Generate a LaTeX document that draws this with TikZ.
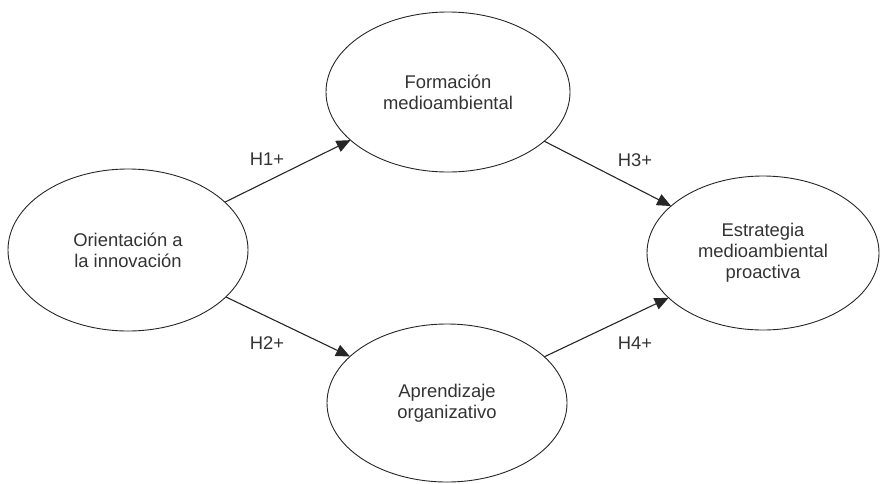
\documentclass[tikz,border=0pt]{standalone}
\usepackage{fontspec}
\setmainfont{Liberation Sans}
\usetikzlibrary{shapes.geometric,arrows.meta}
\begin{document}
\begin{tikzpicture}[x=1pt,y=-1pt,
  construct/.style={ellipse,draw=black!85,line width=0.9pt,inner sep=0pt,outer sep=0pt,align=center,font=\fontsize{18.4}{21}\selectfont,text=black!80},
  hyp/.style={draw=black!85,line width=1.1pt,-{Triangle[length=14pt,width=12pt]}},
  lab/.style={font=\fontsize{18.4}{21}\selectfont,text=black!80,inner sep=0pt}]
\useasboundingbox (0,0) rectangle (880,483);
\node[construct,minimum width=240pt,minimum height=162pt] (oi) at (128,250) {Orientación a\\la innovación};
\node[construct,minimum width=244pt,minimum height=160pt] (fm) at (448,92) {Formación\\medioambiental};
\node[construct,minimum width=240pt,minimum height=158pt] (ao) at (447,403) {Aprendizaje\\organizativo};
\node[construct,minimum width=232pt,minimum height=154pt] (em) at (763,253) {Estrategia\\medioambiental\\proactiva};
\draw[hyp] (oi) -- (fm);
\draw[hyp] (oi) -- (ao);
\draw[hyp] (fm) -- (em);
\draw[hyp] (ao) -- (em);
\node[lab] (h1) at (267,159) {H1+};
\node[lab] (h2) at (267,343) {H2+};
\node[lab] (h3) at (635,160) {H3+};
\node[lab] (h4) at (635,343) {H4+};
\end{tikzpicture}
\end{document}
